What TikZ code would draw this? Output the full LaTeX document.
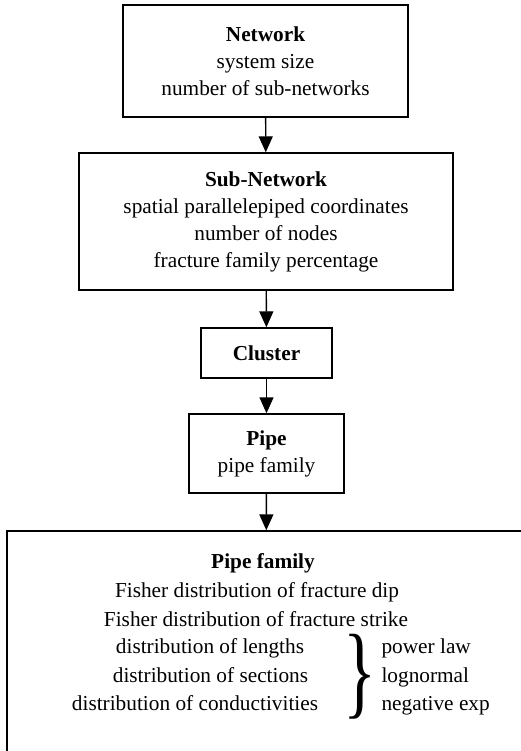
\documentclass[tikz,border=0pt]{standalone}
\usepackage{fontspec}
\setmainfont{Liberation Serif}
\usetikzlibrary{arrows.meta}

\tikzset{
  box/.style={draw, line width=1.4pt, align=center, inner sep=0pt},
  flow/.style={line width=1.4pt, -{Triangle[length=16pt,width=14pt]}},
  line/.style={anchor=base}
}

\begin{document}
\begin{tikzpicture}[x=1pt, y=-1pt, font=\fontsize{21.3}{27}\selectfont]
    \useasboundingbox (0,0) rectangle (521,751);

    % Boxes of the chain
    \node[box, minimum width=285pt, minimum height=112pt] (net) at (265.5,61)
      {\textbf{Network}\\system size\\number of sub-networks};
    \node[box, minimum width=374pt, minimum height=137pt] (sub) at (266,221.5)
      {\textbf{Sub-Network}\\spatial parallelepiped coordinates\\number of nodes\\fracture family percentage};
    \node[box, minimum width=131pt, minimum height=50pt] (cluster) at (266.5,353)
      {\textbf{Cluster}};
    \node[box, minimum width=155pt, minimum height=79pt] (pipe) at (266.5,453.5)
      {\textbf{Pipe}\\pipe family};
    \node[box, minimum width=518pt, minimum height=239pt] (fam) at (266,650.5) {};

    % Text of the pipe family box
    \node[line] (famtitle) at (263,568) {\textbf{Pipe family}};
    \node[line] (dip) at (257,597) {Fisher distribution of fracture dip};
    \node[line] (strike) at (256,626) {Fisher distribution of fracture strike};
    \node[line] (len) at (210,653) {distribution of lengths};
    \node[line] (sec) at (210.5,682) {distribution of sections};
    \node[line] (cond) at (195,710) {distribution of conductivities};
    \node[inner sep=0pt] (brace) at (360,676.5) {\resizebox*{33pt}{85pt}{\}}};
    \node[line, anchor=base west] (pow) at (378,653) {power law};
    \node[line, anchor=base west] (logn) at (378,682) {lognormal};
    \node[line, anchor=base west] (negexp) at (378,710) {negative exp};

    % Arrows
    \draw[flow] (net) -- (sub);
    \draw[flow] (sub) -- (cluster);
    \draw[flow] (cluster) -- (pipe);
    \draw[flow] (pipe) -- (fam);
\end{tikzpicture}
\end{document}
